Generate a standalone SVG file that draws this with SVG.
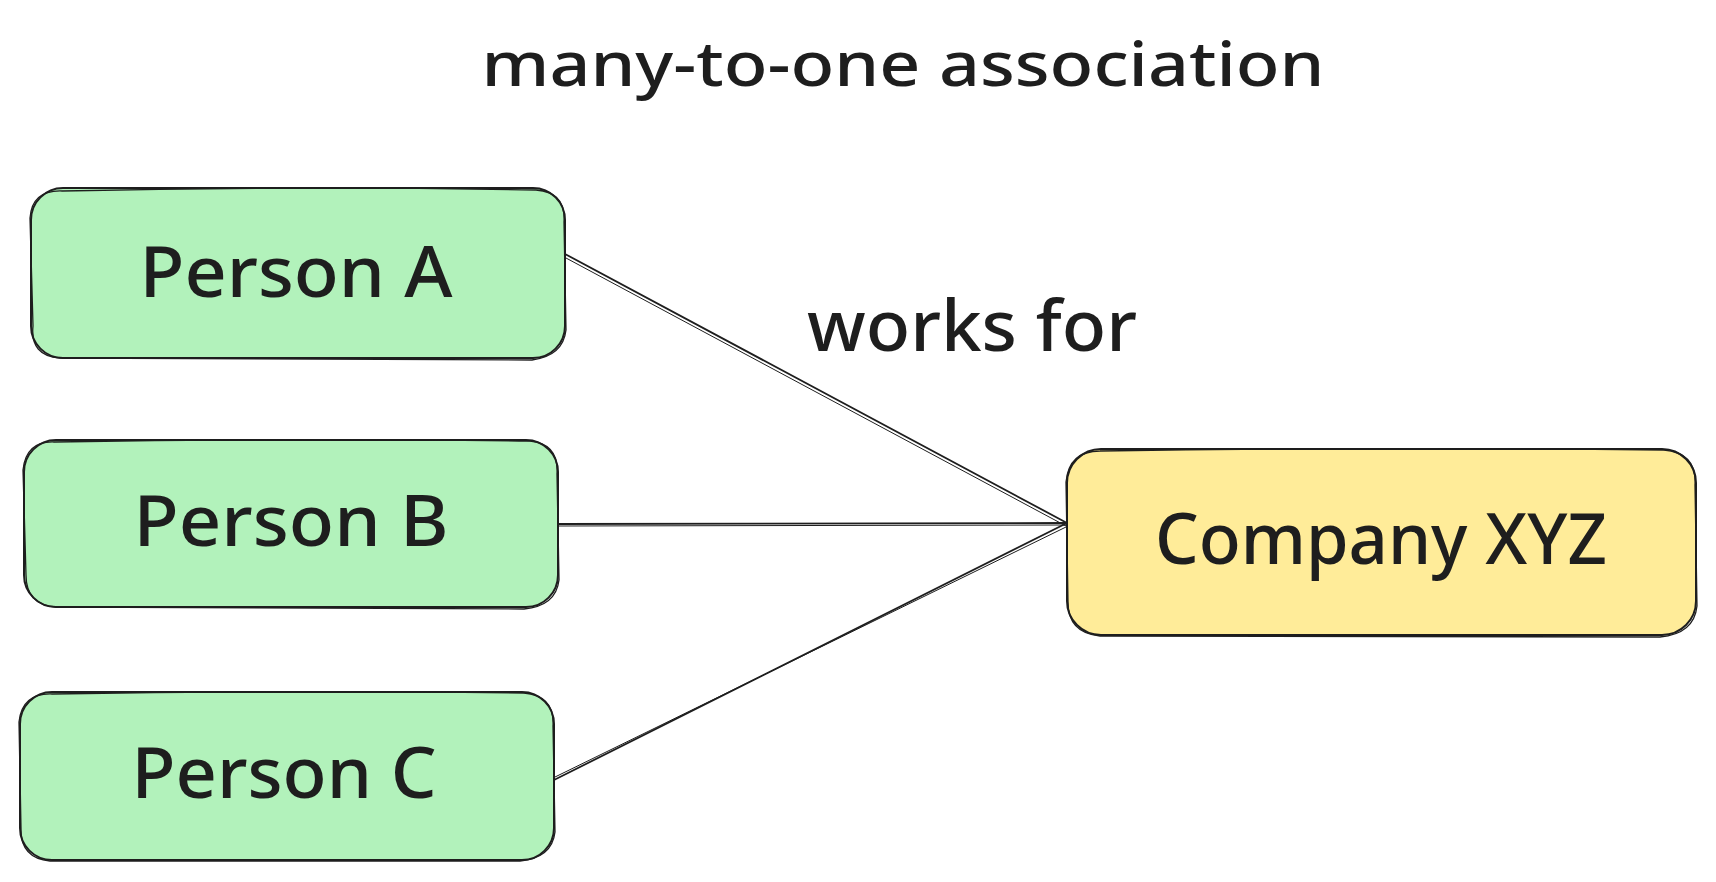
<svg xmlns="http://www.w3.org/2000/svg" width="1716" height="882" viewBox="0 0 1716 882">
<style>
.box{stroke:#1e1e1e;stroke-width:2;stroke-linejoin:round}
.sk{fill:none;stroke:#1e1e1e;stroke-width:1.3}
.green{fill:#b2f2bb}
.yellow{fill:#ffec99}
.lbl{font-family:"Noto Sans","Liberation Sans",sans-serif;fill:#1e1e1e;text-anchor:middle;font-weight:500}
.conn{stroke:#1e1e1e;stroke-width:1.8;fill:none;stroke-linecap:round}
.conn2{stroke:#1e1e1e;stroke-width:1;fill:none}
</style>
<rect width="1716" height="882" fill="#ffffff"/>
<text class="lbl" x="903" y="86" font-size="62" textLength="843" lengthAdjust="spacingAndGlyphs">many-to-one association</text>
<g id="connectors">
<path class="conn" d="M565 254 L1067 523"/>
<path class="conn2" d="M566 258 L1066 526"/>
<path class="conn" d="M555 524 L1067 523"/>
<path class="conn2" d="M556 526 L1066 525"/>
<path class="conn" d="M554 780 L1067 523"/>
<path class="conn2" d="M555 777 L1066 527"/>
</g>
<text class="lbl" x="972" y="351" font-size="70" textLength="330" lengthAdjust="spacingAndGlyphs">works for</text>
<g id="personA">
<rect class="box green" x="31" y="188" width="534" height="170" rx="32"/>
<path class="sk" d="M62 191 Q300 186 536 190 Q566 192 564 222 L566 330 Q563 356 532 360 L60 358 Q30 356 33 326 L30 218 Q32 190 62 191"/>
<text class="lbl" x="296" y="297" font-size="70" textLength="313" lengthAdjust="spacingAndGlyphs">Person A</text>
</g>
<g id="personB">
<rect class="box green" x="24" y="440" width="534" height="167" rx="32"/>
<path class="sk" d="M54 442 Q290 438 530 441 Q559 444 557 474 L559 580 Q556 606 524 609 L56 607 Q26 605 26 575 L23 470 Q26 441 54 442"/>
<text class="lbl" x="291" y="546" font-size="70" textLength="315" lengthAdjust="spacingAndGlyphs">Person B</text>
</g>
<g id="personC">
<rect class="box green" x="20" y="692" width="534" height="168" rx="32"/>
<path class="sk" d="M52 694 Q290 690 524 693 Q555 696 553 726 L555 832 Q552 858 520 861 L50 861 Q20 858 21 828 L19 722 Q22 693 52 694"/>
<text class="lbl" x="284" y="798" font-size="70" textLength="305" lengthAdjust="spacingAndGlyphs">Person C</text>
</g>
<g id="companyXYZ">
<rect class="box yellow" x="1067" y="449" width="629" height="186" rx="34"/>
<path class="sk" d="M1100 451 Q1380 447 1664 450 Q1697 453 1695 485 L1697 606 Q1694 634 1660 637 L1100 636 Q1068 633 1068 602 L1066 482 Q1069 451 1100 451"/>
<text class="lbl" x="1381" y="564" font-size="70" textLength="452" lengthAdjust="spacingAndGlyphs">Company XYZ</text>
</g>
</svg>
